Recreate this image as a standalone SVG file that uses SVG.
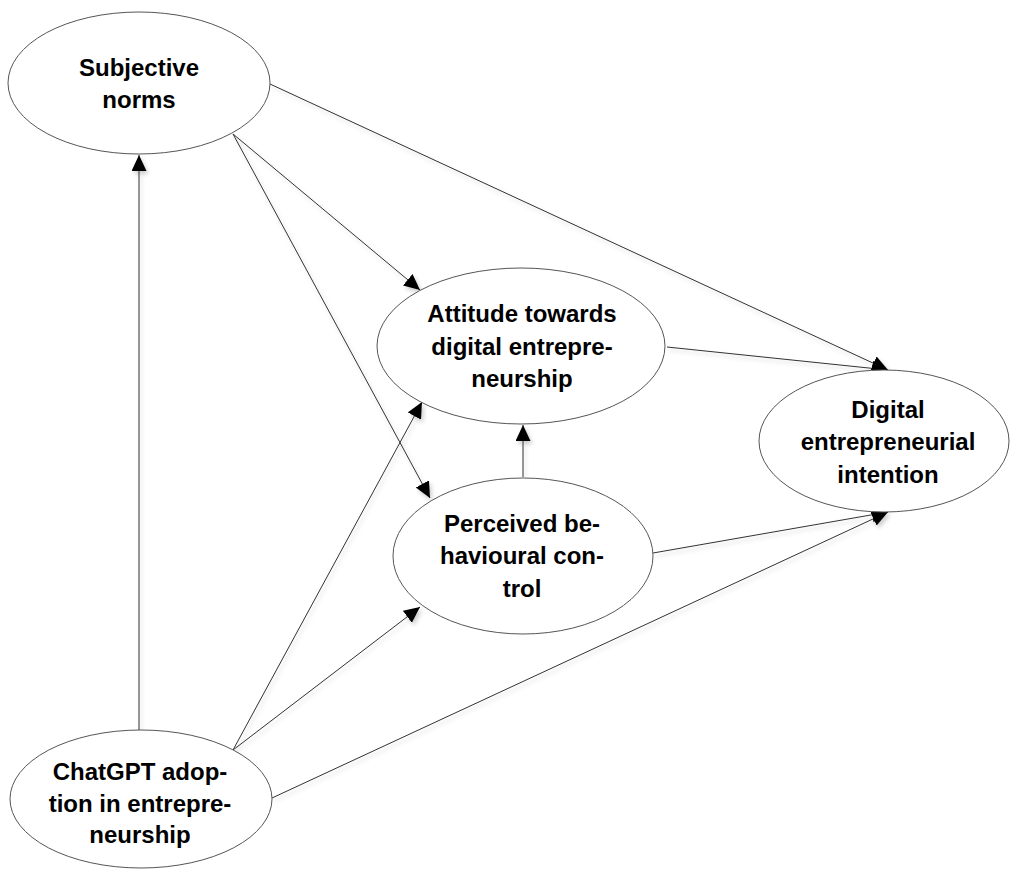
<svg xmlns="http://www.w3.org/2000/svg" width="1010" height="869" viewBox="0 0 1010 869">
<style>
.node ellipse{fill:#ffffff;stroke:#555555;stroke-width:1}
.node text{font-family:"Liberation Sans",Arial,sans-serif;font-weight:bold;font-size:24px;fill:#000000;text-anchor:middle}
.edge{fill:none;stroke:#333333;stroke-width:1;marker-end:url(#arr)}
</style>
<defs>
<marker id="arr" markerUnits="userSpaceOnUse" markerWidth="17" markerHeight="16" refX="16" refY="7.5" orient="auto">
<path d="M0,0 L16,7.5 L0,15 z" fill="#000000"/>
</marker>
<filter id="sh" x="-10%" y="-10%" width="120%" height="120%">
<feDropShadow dx="2" dy="3" stdDeviation="2" flood-color="#000000" flood-opacity="0.2"/>
</filter>
</defs>
<g id="connectors" filter="url(#sh)">
<path class="edge" d="M139,730 L139,155"/>
<path class="edge" d="M233,134 L420,290"/>
<path class="edge" d="M233,134 L430,498"/>
<path class="edge" d="M270,84 L888,370"/>
<path class="edge" d="M667,347 L888,370"/>
<path class="edge" d="M523,477 L523,425"/>
<path class="edge" d="M653,553 L888,512"/>
<path class="edge" d="M233,750 L422,402"/>
<path class="edge" d="M233,750 L420,607"/>
<path class="edge" d="M272,798 L888,512"/>
</g>
<g id="subjective-norms" class="node">
<ellipse cx="139" cy="83" rx="131" ry="71"/>
<text x="139" y="76">Subjective</text>
<text x="139" y="108">norms</text>
</g>
<g id="attitude" class="node">
<ellipse cx="521" cy="346" rx="144" ry="78"/>
<text x="522" y="322">Attitude towards</text>
<text x="522" y="355">digital entrepre-</text>
<text x="522" y="387">neurship</text>
</g>
<g id="perceived-control" class="node">
<ellipse cx="523" cy="556" rx="130" ry="78"/>
<text x="522" y="532">Perceived be-</text>
<text x="522" y="564">havioural con-</text>
<text x="522" y="597">trol</text>
</g>
<g id="intention" class="node">
<ellipse cx="884" cy="441" rx="125" ry="71"/>
<text x="888" y="418">Digital</text>
<text x="888" y="450">entrepreneurial</text>
<text x="888" y="483">intention</text>
</g>
<g id="chatgpt-adoption" class="node">
<ellipse cx="141" cy="799" rx="131" ry="69"/>
<text x="140" y="780">ChatGPT adop-</text>
<text x="140" y="812">tion in entrepre-</text>
<text x="140" y="843">neurship</text>
</g>
</svg>
